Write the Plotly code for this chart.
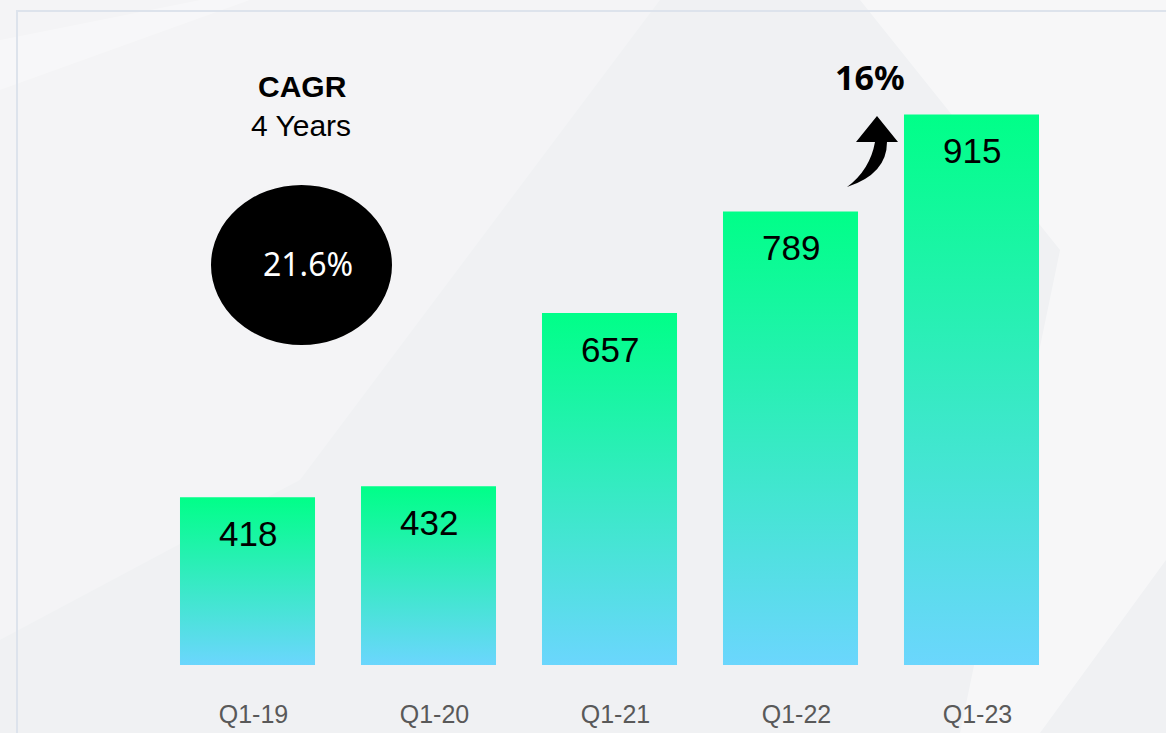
import plotly.graph_objects as go

# ---- data ----
quarters = ["Q1-19", "Q1-20", "Q1-21", "Q1-22", "Q1-23"]
values = [418, 432, 657, 789, 915]
cagr_title = "CAGR"
cagr_period = "4 Years"
cagr_value = "21.6%"
yoy_growth = "16%"

# ---- style ----
TOP_GREEN = "#00ff88"
BOTTOM_BLUE = "#6bd6fd"
BG = "#f0f1f3"
Y_BASE = 200
Y_TOP = 1000
HALF_W = 0.373
FONT = "Liberation Sans, Arial, sans-serif"

# plot area geometry (pixels) used only to place decorative items
L, R, T, B = 157, 104, 49, 68
W, H = 1166, 733
PW, PH = W - L - R, H - T - B


def px_to_data(px, py):
    x = (px - L) / PW * 5 - 0.5
    y = Y_BASE + (H - B - py) / PH * (Y_TOP - Y_BASE)
    return x, y


def px_to_paper(px, py):
    return (px - L) / PW, (H - B - py) / PH


fig = go.Figure()

idx = list(range(len(quarters)))
for i, v in zip(idx, values):
    fig.add_trace(go.Scatter(
        x=[i - HALF_W, i + HALF_W, i + HALF_W, i - HALF_W, i - HALF_W],
        y=[Y_BASE, Y_BASE, v, v, Y_BASE],
        mode="lines",
        line=dict(width=0),
        fill="toself",
        fillgradient=dict(type="vertical",
                          colorscale=[[0, BOTTOM_BLUE], [1, TOP_GREEN]]),
        hoverinfo="skip",
        showlegend=False,
    ))

annotations = []
for i, v in zip(idx, values):
    annotations.append(dict(
        x=i, y=v, xref="x", yref="y", text=str(v), showarrow=False,
        yanchor="middle", yshift=-36,
        font=dict(family=FONT, size=35, color="#000000"),
    ))

# CAGR block
cx, cy = px_to_data(302, 86)
annotations.append(dict(x=cx, y=cy, xref="x", yref="y", text="<b>%s</b>" % cagr_title,
                        showarrow=False, font=dict(family=FONT, size=30, color="#000")))
cx, cy = px_to_data(301, 125)
annotations.append(dict(x=cx, y=cy, xref="x", yref="y", text=cagr_period,
                        showarrow=False, font=dict(family=FONT, size=30, color="#000")))
cx, cy = px_to_data(308, 263)
annotations.append(dict(x=cx, y=cy, xref="x", yref="y", text=cagr_value,
                        showarrow=False, font=dict(family="Noto Sans", size=32, color="#ffffff")))
cx, cy = px_to_data(870, 77)
annotations.append(dict(x=cx, y=cy, xref="x", yref="y", text="<b>%s</b>" % yoy_growth,
                        showarrow=False, font=dict(family="Noto Sans", size=34, color="#000")))

shapes = []
# subtle diagonal light areas of the backdrop
for poly, op in (([(0, 0), (660, 0), (300, 480), (0, 640)], 0.25),
                 ([(860, 0), (1166, 0), (1166, 560), (1040, 733), (960, 733), (1060, 250)], 0.45),
                 ([(0, 40), (200, 0), (250, 0), (0, 90)], 0.3)):
    pts = [px_to_paper(*p) for p in poly]
    path = "M " + " L ".join("%.4f,%.4f" % p for p in pts) + " Z"
    shapes.append(dict(type="path", xref="paper", yref="paper", path=path,
                       fillcolor="rgba(255,255,255,%.2f)" % op, line=dict(width=0),
                       layer="below"))

# frame line
fx0, fy1 = px_to_paper(17, 11)
shapes.append(dict(type="rect", xref="paper", yref="paper", x0=fx0, x1=1.3, y0=-0.3, y1=fy1,
                   line=dict(color="#dde3ec", width=2), fillcolor="rgba(0,0,0,0)", layer="below"))

# black ellipse
ex0, ey1 = px_to_data(211, 185)
ex1, ey0 = px_to_data(392, 345)
shapes.append(dict(type="circle", xref="x", yref="y", x0=ex0, x1=ex1, y0=ey0, y1=ey1,
                   fillcolor="#000000", line=dict(width=0), layer="below"))

# curved arrow
pts = {
    "tail": (847, 187), "c1": (870, 170), "li": (875, 142), "hl": (856, 142),
    "tip": (877, 116), "hr": (898, 142), "ri": (887, 142), "c2": (887, 174),
}
d = {k: px_to_data(*p) for k, p in pts.items()}
f = lambda k: "%.5f,%.3f" % d[k]
path = ("M %s Q %s %s L %s L %s L %s L %s Q %s %s Z" %
        (f("tail"), f("c1"), f("li"), f("hl"), f("tip"), f("hr"), f("ri"), f("c2"), f("tail")))
shapes.append(dict(type="path", xref="x", yref="y", path=path,
                   fillcolor="#000000", line=dict(width=0)))

fig.update_layout(
    width=W, height=H,
    margin=dict(l=L, r=R, t=T, b=B, autoexpand=False),
    paper_bgcolor=BG,
    plot_bgcolor="rgba(0,0,0,0)",
    showlegend=False,
    annotations=annotations,
    shapes=shapes,
    xaxis=dict(range=[-0.5, 4.5], tickvals=idx, ticktext=quarters, showgrid=False,
               zeroline=False, showline=False, ticks="", ticklabelstandoff=32,
               ticklabelshift=6, automargin=False,
               tickfont=dict(family=FONT, size=25, color="#595959"), fixedrange=True),
    yaxis=dict(range=[Y_BASE, Y_TOP], visible=False, showgrid=False, zeroline=False,
               automargin=False, fixedrange=True),
)

fig.write_html(
    "out.html",
    config={"displayModeBar": False},
    post_script="document.body.style.margin='0';document.body.style.overflow='hidden';"
                "document.body.style.background='%s';" % BG,
)
